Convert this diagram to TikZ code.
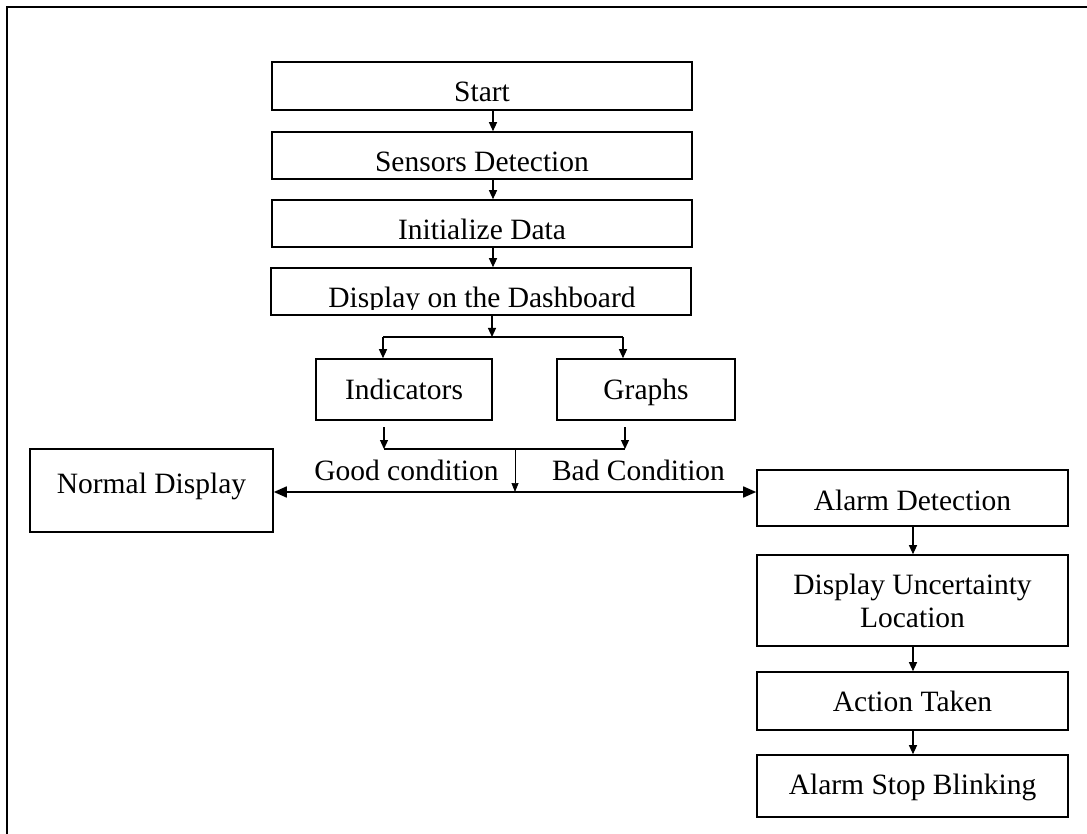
\documentclass[tikz,border=0pt]{standalone}
\usepackage{fontspec}
\setmainfont{Liberation Serif}
\usetikzlibrary{arrows.meta,calc}
\tikzset{
  box/.style={draw, line width=1.6pt, inner sep=0pt, align=center, text depth=0pt, font=\fontsize{29.5}{33}\selectfont},
  box2/.style={draw, line width=1.6pt, inner sep=0pt, align=center, font=\fontsize{29.5}{33}\selectfont},
  lbl/.style={inner sep=0pt, anchor=base, font=\fontsize{29.5}{33}\selectfont},
  arr/.style={line width=1.2pt, -{Triangle[length=9pt,width=8pt]}},
  ln/.style={line width=1.2pt},
  dbl/.style={line width=1.6pt, {Triangle[length=13pt,width=11pt]}-{Triangle[length=13pt,width=11pt]}},
}
\begin{document}
\begin{tikzpicture}[x={(1pt,0pt)}, y={(0pt,-1pt)}]
\useasboundingbox (0,0) rectangle (1087,834);
% frame
\draw[line width=2pt] (7,834) -- (7,7) -- (1087,7);
% top column
\node[box, minimum width=420pt, minimum height=48pt, text height=31.4pt] (start) at (482,86) {Start};
\node[box, minimum width=420pt, minimum height=47pt, text height=32.4pt] (sens) at (482,155.5) {Sensors Detection};
\node[box, minimum width=420pt, minimum height=47pt, text height=33pt] (init) at (482,223.5) {Initialize Data};
\node[box, minimum width=420pt, minimum height=47pt] (dash) at (481,291.5) {};
\begin{scope}
  \clip (271,268) rectangle (691,310);
  \node[lbl] (dashtxt) at (482,307.7) {Display on the Dashboard};
\end{scope}
\coordinate (ax) at (493,0);
\draw[arr] (start.south -| ax) -- (sens.north -| ax);
\draw[arr] (sens.south -| ax) -- (init.north -| ax);
\draw[arr] (init.south -| ax) -- (dash.north -| ax);
% branch
\node[box, minimum width=176pt, minimum height=61pt, text height=19pt] (ind) at (404,389.5) {Indicators};
\node[box, minimum width=178pt, minimum height=61pt, text height=19pt] (gra) at (646,389.5) {Graphs};
\coordinate (j1) at (492,337);
\coordinate (j1l) at (383,337);
\coordinate (j1r) at (623,337);
\draw[arr] (dash.south -| j1) -- (j1);
\draw[ln] (j1l) -- (j1r);
\draw[arr] (j1l) -- (ind.north -| j1l);
\draw[arr] (j1r) -- (gra.north -| j1r);
% merge
\coordinate (i1) at (384,427);
\coordinate (g1) at (625,427);
\coordinate (j2l) at (384,449);
\coordinate (j2r) at (625,449);
\coordinate (j2) at (515,449);
\coordinate (j3) at (515,492);
\draw[arr] (i1) -- (j2l);
\draw[arr] (g1) -- (j2r);
\draw[ln] (j2l) -- (j2r);
\draw[line width=0.7pt, -{Triangle[length=9pt,width=7pt]}] (j2) -- (j3);
% outcomes
\node[box, minimum width=243pt, minimum height=83pt, text height=5pt] (normal) at (151.5,490.5) {Normal Display};
\node[box, minimum width=311pt, minimum height=56pt, text height=24pt] (alarm) at (912.5,498) {Alarm Detection};
\draw[dbl] (normal.east |- j3) -- (alarm.west |- j3);
\node[lbl] (good) at (406.5,480) {Good condition};
\node[lbl] (bad) at (638.5,480) {Bad Condition};
% right column
\node[box2, minimum width=311pt, minimum height=91pt] (unc) at (912.5,600.5) {Display Uncertainty\\Location};
\node[box, minimum width=311pt, minimum height=58pt, text height=21.4pt] (act) at (912.5,701) {Action Taken};
\node[box, minimum width=311pt, minimum height=62pt, text height=16pt] (stop) at (912.5,786) {Alarm Stop Blinking};
\coordinate (bx) at (913,0);
\draw[arr] (alarm.south -| bx) -- (unc.north -| bx);
\draw[arr] (unc.south -| bx) -- (act.north -| bx);
\draw[arr] (act.south -| bx) -- (stop.north -| bx);
\end{tikzpicture}
\end{document}
